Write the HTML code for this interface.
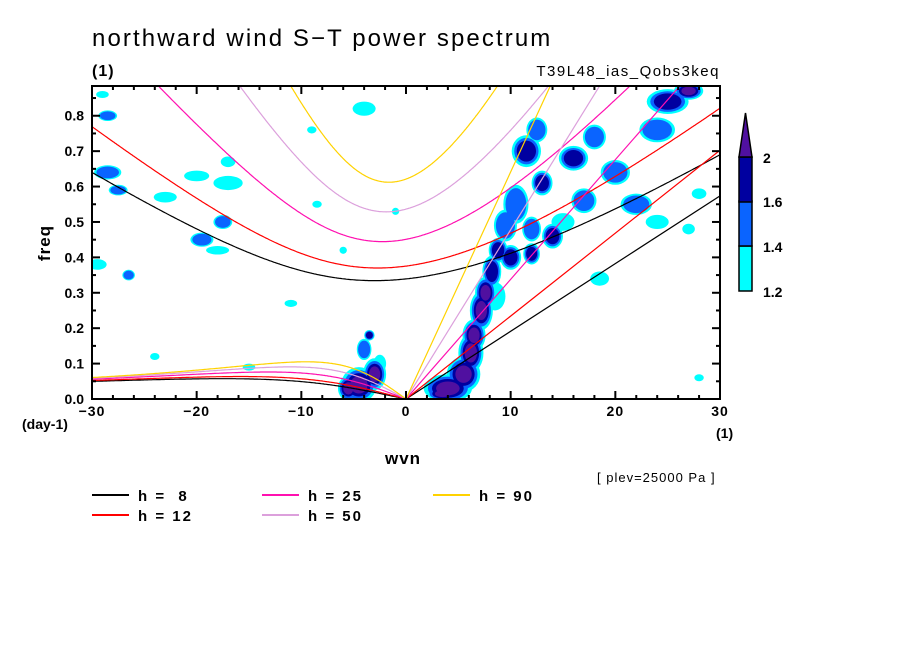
<!DOCTYPE html>
<html><head><meta charset="utf-8"><style>
body{margin:0;background:#fff;}
svg{display:block;font-family:"Liberation Sans",sans-serif;}
text{white-space:pre;}
</style></head><body>
<svg id="chart" width="904" height="654" xmlns="http://www.w3.org/2000/svg">
<defs><clipPath id="clip"><rect x="92" y="86" width="628" height="313"/></clipPath></defs>
<text x="92" y="46" font-size="24" letter-spacing="2.1">northward wind S−T power spectrum</text>
<text x="92" y="76" font-size="16" letter-spacing="1" font-weight="bold">(1)</text>
<text x="720" y="76" font-size="15" letter-spacing="1.5" text-anchor="end">T39L48_ias_Qobs3keq</text>
<g id="blobs" clip-path="url(#clip)"></g>
<g id="curves" clip-path="url(#clip)"></g>
<rect x="92" y="86" width="628" height="313" fill="none" stroke="#000" stroke-width="2"/>
<g id="axes"></g>
<text x="50" y="243" font-size="17" font-weight="bold" letter-spacing="1" transform="rotate(-90 50 243)" text-anchor="middle">freq</text>
<text x="403" y="464" font-size="17" font-weight="bold" letter-spacing="1" text-anchor="middle">wvn</text>
<text x="22" y="429" font-size="14" font-weight="bold">(day-1)</text>
<text x="716" y="438" font-size="14" font-weight="bold">(1)</text>
<text x="597" y="482" font-size="13" letter-spacing="1">[ plev=25000 Pa ]</text>
<g id="legend"></g>
<g id="cbar"></g>
</svg>
<script>
const NS="http://www.w3.org/2000/svg";
const depths=[8,12,25,50,90];
const depthColors=["#000000","#ff0000","#ff10b0","#dca0dc","#ffd200"];
const xTicks=[-30,-20,-10,0,10,20,30];
const yTicks=[0,0.1,0.2,0.3,0.4,0.5,0.6,0.7,0.8];
const cbLevels=["1.2","1.4","1.6","2"];
const levelColors=["#00ffff","#0a64ff","#0000a0","#5010a0"];
// blobs: wavenumber, frequency, half-width (wvn), half-height (freq), level
const blobWvn=[4,3.5,5.5,6.2,6.5,7.2,7.6,8.2,8.8,10,12,9.5,12,14,10.5,13,11.5,12.5,16,18,20,24,25,27,17,22,15,18.5,24,27,28,8.5,
 -4.5,-3,-4,-3.5,-2.5,-5.5,
 -28.5,-27.5,-23,-20,-19.5,-17.5,-17,-18,-28.5,-29.5,-26.5,-4,-17,-1,-8.5,-29,-11,-9,28,-24,-15,-6];
const blobFreq=[0.03,0.015,0.07,0.13,0.18,0.25,0.30,0.36,0.42,0.40,0.41,0.49,0.48,0.46,0.55,0.61,0.70,0.76,0.68,0.74,0.64,0.76,0.84,0.87,0.56,0.55,0.50,0.34,0.50,0.48,0.58,0.29,
 0.04,0.07,0.14,0.18,0.10,0.03,
 0.64,0.59,0.57,0.63,0.45,0.50,0.61,0.42,0.80,0.38,0.35,0.82,0.67,0.53,0.55,0.86,0.27,0.76,0.06,0.12,0.09,0.42];
const blobW=[2.3,1.5,1.6,1.2,1.1,1.1,1,0.9,0.9,1,0.8,1.1,0.9,1,1.2,1,1.4,1,1.4,1.1,1.4,1.7,2,1.4,1.2,1.5,1.1,0.9,1.1,0.6,0.7,1,
 1.7,1.1,0.7,0.5,0.6,1,
 1.3,0.9,1.1,1.2,1.1,0.9,1.4,1.1,0.9,0.9,0.6,1.1,0.7,0.35,0.45,0.6,0.6,0.45,0.45,0.45,0.6,0.35];
const blobH=[0.04,0.02,0.05,0.055,0.045,0.055,0.045,0.045,0.035,0.035,0.03,0.045,0.035,0.035,0.055,0.035,0.045,0.035,0.035,0.035,0.035,0.035,0.035,0.025,0.035,0.03,0.025,0.02,0.02,0.015,0.015,0.04,
 0.05,0.045,0.03,0.015,0.025,0.035,
 0.02,0.015,0.015,0.015,0.02,0.02,0.02,0.012,0.015,0.015,0.015,0.02,0.015,0.01,0.01,0.01,0.01,0.01,0.01,0.01,0.01,0.01];
const blobLevel=[4,4,4,4,4,4,4,3,3,3,3,2,2,3,2,3,3,2,3,2,2,2,3,4,2,2,1,1,1,1,1,1,
 4,4,2,3,1,4,
 2,2,1,1,2,2,1,1,2,1,2,1,1,1,1,1,1,1,1,1,1,1];

const X0=92,X1=720,Y0=399,Y1=86,XMIN=-30,XMAX=30,YMIN=0,YMAX=0.884;
const sx=v=>X0+(v-XMIN)/(XMAX-XMIN)*(X1-X0);
const sy=v=>Y0-(v-YMIN)/(YMAX-YMIN)*(Y0-Y1);
function el(tag,attrs,parent){const e=document.createElementNS(NS,tag);for(const k in attrs)e.setAttribute(k,attrs[k]);parent.appendChild(e);return e;}

const gb=document.getElementById('blobs');
for(let L=0;L<4;L++){
  for(let i=0;i<blobWvn.length;i++){
    if(blobLevel[i]<=L) continue;
    const s=1-L*0.17;
    const e=el('ellipse',{cx:sx(blobWvn[i]),cy:sy(blobFreq[i]),rx:blobW[i]*s*(X1-X0)/(XMAX-XMIN),ry:blobH[i]*s*(Y0-Y1)/(YMAX-YMIN),fill:levelColors[L]},gb);
    
    
  }
}

const g=9.81,a=6.371e6,beta=2*7.292e-5/a,toCpd=86400/(2*Math.PI);
function roots(k,c){
  const p=-(c*c*k*k+3*beta*c),q=-beta*c*c*k;
  const m=2*Math.sqrt(-p/3);
  const th=Math.acos(Math.max(-1,Math.min(1,3*q/(p*m))))/3;
  const r=[0,1,2].map(j=>m*Math.cos(th-2*Math.PI*j/3));
  return r.sort((x,y)=>y-x);
}
const gc=document.getElementById('curves');
depths.forEach((h,di)=>{
  const c=Math.sqrt(g*h);
  let ig=[],ro=[];
  for(let s=XMIN;s<=XMAX+1e-9;s+=0.1){
    const k=s/a;
    const r=roots(k,c);
    ig.push([sx(s),sy(r[0]*toCpd)]);
    if(s<=0) ro.push([sx(s),sy(Math.max(0,r[1])*toCpd)]);
  }
  const pts=a=>a.map(p=>p[0].toFixed(1)+','+p[1].toFixed(1)).join(' ');
  const p1=el('polyline',{points:pts(ig),fill:'none',stroke:depthColors[di],'stroke-width':1.2},gc);
  
  
  const p2=el('polyline',{points:pts(ro),fill:'none',stroke:depthColors[di],'stroke-width':1.2},gc);
  
  
  const kv=el('line',{x1:sx(0),y1:sy(0),x2:sx(XMAX),y2:sy(c*(XMAX/a)*toCpd),stroke:depthColors[di],'stroke-width':1.2},gc);
  
  
});

const ga=document.getElementById('axes');
for(let v=XMIN;v<=XMAX;v+=2){
  const major=v%10===0, len=major?8:4;
  el('line',{x1:sx(v),y1:Y0,x2:sx(v),y2:Y0-len,stroke:'#000','stroke-width':2},ga);
  el('line',{x1:sx(v),y1:Y1,x2:sx(v),y2:Y1+len,stroke:'#000','stroke-width':2},ga);
}
for(let i=0;i<=17;i++){
  const v=i*0.05, major=i%2===0, len=major?8:4;
  el('line',{x1:X0,y1:sy(v),x2:X0+len,y2:sy(v),stroke:'#000','stroke-width':2},ga);
  el('line',{x1:X1,y1:sy(v),x2:X1-len,y2:sy(v),stroke:'#000','stroke-width':2},ga);
}
xTicks.forEach(v=>{
  const t=el('text',{x:sx(v),y:416,'font-size':14,'font-weight':'bold','letter-spacing':1,'text-anchor':'middle'},ga);
  t.textContent=v<0?'−'+(-v):String(v);
  
  
});
yTicks.forEach(v=>{
  const t=el('text',{x:84,y:sy(v)+5,'font-size':14,'font-weight':'bold','text-anchor':'end'},ga);
  t.textContent=v.toFixed(1);
  
  
});

const gl=document.getElementById('legend');
const legPos=[[92,495],[92,515],[262,495],[262,515],[433,495]];
depths.forEach((h,i)=>{
  const [x,y]=legPos[i];
  const ln=el('line',{x1:x,y1:y,x2:x+37,y2:y,stroke:depthColors[i],'stroke-width':2},gl);
  
  
  const t=el('text',{x:x+46,y:y+6,'font-size':15,'font-weight':'bold','letter-spacing':2},gl);
  t.textContent='h = '+(h<10?' '+h:h);
  
  
});

const gcb=document.getElementById('cbar');
const cx0=739,cw=13,segTop=[246,201,157];
[0,1,2].forEach(i=>{
  const r=el('rect',{x:cx0,y:segTop[i],width:cw,height:45,fill:levelColors[i],stroke:'#000','stroke-width':1.5},gcb);
  
  
});
const tri=el('polygon',{points:`${cx0},157 ${cx0+cw},157 ${cx0+cw/2},113`,fill:levelColors[3],stroke:'#000','stroke-width':1.5},gcb);


const cbY=[291,246,201,157];
cbLevels.forEach((s,i)=>{
  const t=el('text',{x:763,y:cbY[i]+6,'font-size':14,'font-weight':'bold'},gcb);
  t.textContent=s;
  
  
});
</script>
</body></html>
